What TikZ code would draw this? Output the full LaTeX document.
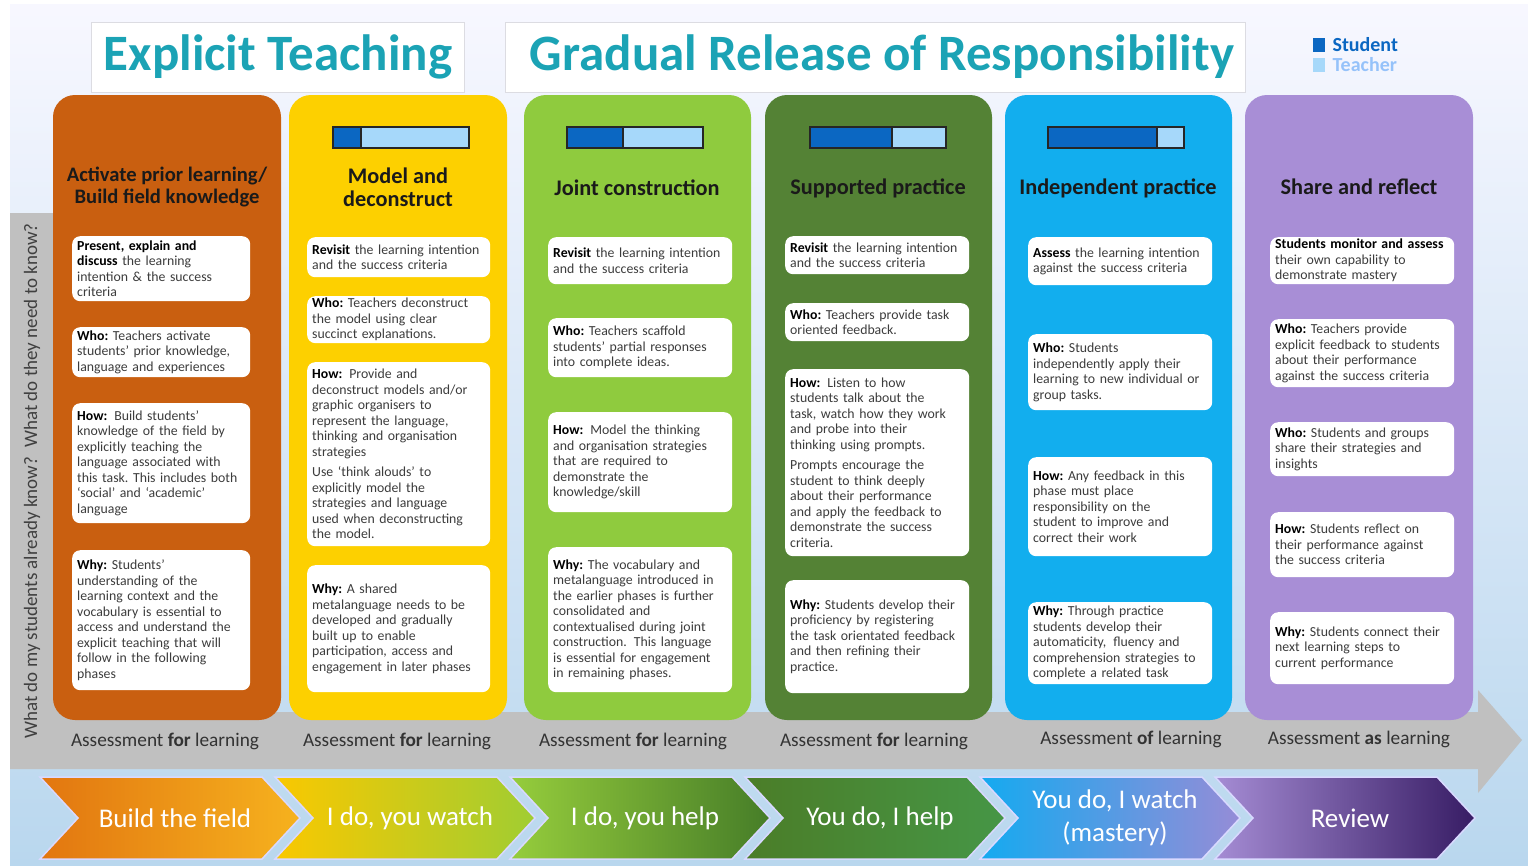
\documentclass[tikz,border=0pt]{standalone}
\usepackage{fontspec}
\setmainfont{Carlito}
\frenchspacing
\definecolor{titleteal}{HTML}{1BA3B5}
\definecolor{colA}{HTML}{C95F10}
\definecolor{colB}{HTML}{FDD000}
\definecolor{colC}{HTML}{8FCB3E}
\definecolor{colD}{HTML}{548235}
\definecolor{colE}{HTML}{12AEEE}
\definecolor{colF}{HTML}{A88ED6}
\definecolor{studentblue}{HTML}{0B67C2}
\definecolor{teacherblue}{HTML}{A6D8FA}
\definecolor{arrowgrey}{HTML}{C0C0C0}
\definecolor{boxtext}{HTML}{3C3C3C}
\definecolor{headtext}{HTML}{1A1A1A}
\tikzset{
  titlebox/.style={fill=white, draw=blue!10!gray!25},
  titletext/.style={text=titleteal, font=\fontsize{51}{55}\selectfont\bfseries},
  colhead/.style={font=\fontsize{22.3}{23}\selectfont\bfseries, text=headtext, align=center},
  infobox/.style={fill=white, rounded corners=8pt, anchor=north west, align=left, inner xsep=5pt, inner ysep=2pt, text=boxtext, font=\fontsize{13.8}{15.5}\selectfont},
  assess/.style={font=\fontsize{19.3}{21}\selectfont, text=black!80},
  chevtext/.style={font=\fontsize{27}{33}\selectfont, text=white, align=center}
}
% name, x, y, width, height, text
\newcommand{\infobox}[6]{%
  \pgfmathsetlengthmacro\boxtw{#4-9}
  \node[infobox, text width=\boxtw, minimum height=#5pt] (#1) at (#2,#3) {#6};}
\begin{document}
\begin{tikzpicture}[x=1pt, y=-1pt]
\useasboundingbox (0,0) rectangle (1528,865);
\fill[white] (0,0) rectangle (1528,865);
\shade[top color=blue!3!white, bottom color={rgb,255:red,185;green,215;blue,238}] (10,4) rectangle (1528,865);
% titles and legend
\node[titlebox, minimum width=373pt, minimum height=70pt] (tETbox) at (278,57) {};
\node[titlebox, minimum width=740pt, minimum height=70pt] (tGRbox) at (875,57) {};
\node[titletext] (tET) at (278,57) {Explicit Teaching};
\node[titletext] (tGR) at (882,57) {Gradual Release of Responsibility};
\fill[studentblue] (1313,38) rectangle (1325,52);
\fill[teacherblue] (1313,58) rectangle (1325,72);
\node[anchor=west, text=studentblue, font=\fontsize{20}{21}\selectfont\bfseries] (lgS) at (1329,45) {Student};
\node[anchor=west, text=teacherblue!90!blue, font=\fontsize{20}{21}\selectfont\bfseries] (lgT) at (1329,65) {Teacher};
% grey arrow
\fill[arrowgrey] (10,213) -- (60,213) -- (60,712) -- (1478,712) -- (1478,690) -- (1522,740) -- (1478,793) -- (1478,769) -- (10,769) -- cycle;
\node[rotate=90, text=black!75, font=\fontsize{19}{20}\selectfont] (askq) at (32,481) {What do my students already know?\enspace What do they need to know?};
% columns
\foreach \x/\w/\c in {53/228/colA, 289/218/colB, 524/227/colC, 765/227/colD, 1005/227/colE, 1245/228/colF}
  \fill[\c, rounded corners=22pt] (\x,95) rectangle ++(\w,625);
% student / teacher bars
\foreach \x/\d in {333/28, 567/56, 810/82, 1048/109} {
  \fill[studentblue] (\x,127) rectangle ++(\d,21);
  \fill[teacherblue] (\x+\d,127) rectangle (\x+136,148);
  \draw[black!85, line width=1.2pt] (\x,127) rectangle ++(136,21) (\x+\d,127) -- ++(0,21);
}
\node[colhead, font=\fontsize{20.6}{22}\selectfont\bfseries] (hA) at (167,187) {Activate prior learning/\\Build field knowledge};
\node[colhead] (hB) at (398,187) {Model and\\deconstruct};
\node[colhead] (hC) at (637,188) {Joint construction};
\node[colhead] (hD) at (878,188) {Supported practice};
\node[colhead] (hE) at (1118,188) {Independent practice};
\node[colhead] (hF) at (1359,187) {Share and reflect};
% column 1
\infobox{c1a}{72}{236}{177}{65}{\textbf{\color{black}Present, explain and}\\\textbf{\color{black}discuss} the learning\\intention \& the success\\criteria}
\infobox{c1b}{72}{327}{177}{50}{\textbf{\color{black}Who:} Teachers activate\\students’ prior knowledge,\\language and experiences}
\infobox{c1c}{72}{403}{177}{120}{\textbf{\color{black}How:}\enspace Build students’\\knowledge of the field by\\explicitly teaching the\\language associated with\\this task. This includes both\\‘social’ and ‘academic’\\language}
\infobox{c1d}{72}{550}{177}{140}{\textbf{\color{black}Why:} Students’\\understanding of the\\learning context and the\\vocabulary is essential to\\access and understand the\\explicit teaching that will\\follow in the following\\phases}
% column 2
\infobox{c2a}{307}{237}{182}{40}{\textbf{\color{black}Revisit} the learning intention\\and the success criteria}
\infobox{c2b}{307}{296}{182}{46}{\textbf{\color{black}Who:} Teachers deconstruct\\the model using clear\\succinct explanations.}
\infobox{c2c}{307}{362}{182}{184}{\textbf{\color{black}How:}\enspace Provide and\\deconstruct models and/or\\graphic organisers to\\represent the language,\\thinking and organisation\\strategies\\[5pt]Use ‘think alouds’ to\\explicitly model the\\strategies and language\\used when deconstructing\\the model.}
\infobox{c2d}{307}{565}{182}{127}{\textbf{\color{black}Why:} A shared\\metalanguage needs to be\\developed and gradually\\built up to enable\\participation, access and\\engagement in later phases}
% column 3
\infobox{c3a}{548}{237}{183}{47}{\textbf{\color{black}Revisit} the learning intention\\and the success criteria}
\infobox{c3b}{548}{318}{183}{59}{\textbf{\color{black}Who:} Teachers scaffold\\students’ partial responses\\into complete ideas.}
\infobox{c3c}{548}{412}{183}{100}{\textbf{\color{black}How:}\enspace Model the thinking\\and organisation strategies\\that are required to\\demonstrate the\\knowledge/skill}
\infobox{c3d}{548}{547}{183}{145}{\textbf{\color{black}Why:} The vocabulary and\\metalanguage introduced in\\the earlier phases is further\\consolidated and\\contextualised during joint\\construction.\enspace This language\\is essential for engagement\\in remaining phases.}
% column 4
\infobox{c4a}{785}{236}{183}{38}{\textbf{\color{black}Revisit} the learning intention\\and the success criteria}
\infobox{c4b}{785}{303}{183}{38}{\textbf{\color{black}Who:} Teachers provide task\\oriented feedback.}
\infobox{c4c}{785}{369}{183}{187}{\textbf{\color{black}How:}\enspace Listen to how\\students talk about the\\task, watch how they work\\and probe into their\\thinking using prompts.\\[5pt]Prompts encourage the\\student to think deeply\\about their performance\\and apply the feedback to\\demonstrate the success\\criteria.}
\infobox{c4d}{785}{580}{183}{113}{\textbf{\color{black}Why:} Students develop their\\proficiency by registering\\the task orientated feedback\\and then refining their\\practice.}
% column 5
\infobox{c5a}{1028}{237}{183}{48}{\textbf{\color{black}Assess} the learning intention\\against the success criteria}
\infobox{c5b}{1028}{334}{183}{76}{\textbf{\color{black}Who:} Students\\independently apply their\\learning to new individual or\\group tasks.}
\infobox{c5c}{1028}{457}{183}{99}{\textbf{\color{black}How:} Any feedback in this\\phase must place\\responsibility on the\\student to improve and\\correct their work}
\infobox{c5d}{1028}{602}{183}{82}{\textbf{\color{black}Why:} Through practice\\students develop their\\automaticity,\enspace fluency and\\comprehension strategies to\\complete a related task}
% column 6
\infobox{c6a}{1270}{237}{183}{47}{\textbf{\color{black}Students monitor and assess}\\their own capability to\\demonstrate mastery}
\infobox{c6b}{1270}{319}{183}{68}{\textbf{\color{black}Who:} Teachers provide\\explicit feedback to students\\about their performance\\against the success criteria}
\infobox{c6c}{1270}{422}{183}{54}{\textbf{\color{black}Who:} Students and groups\\share their strategies and\\insights}
\infobox{c6d}{1270}{512}{183}{65}{\textbf{\color{black}How:} Students reflect on\\their performance against\\the success criteria}
\infobox{c6e}{1270}{612}{183}{72}{\textbf{\color{black}Why:} Students connect their\\next learning steps to\\current performance}
% assessment labels
\node[assess] (aA) at (165,741) {Assessment \textbf{for} learning};
\node[assess] (aB) at (397,741) {Assessment \textbf{for} learning};
\node[assess] (aC) at (633,741) {Assessment \textbf{for} learning};
\node[assess] (aD) at (874,741) {Assessment \textbf{for} learning};
\node[assess] (aE) at (1131,739) {Assessment \textbf{of} learning};
\node[assess] (aF) at (1359,739) {Assessment \textbf{as} learning};
% chevrons
\foreach \i/\ca/\cb/\t in {0/{rgb,255:red,226;green,118;blue,16}/{rgb,255:red,246;green,178;blue,30}/{Build the field},
    1/{rgb,255:red,250;green,200;blue,0}/{rgb,255:red,160;green,205;blue,50}/{I do, you watch},
    2/{rgb,255:red,150;green,205;blue,60}/{rgb,255:red,70;green,125;blue,40}/{I do, you help},
    3/{rgb,255:red,75;green,125;blue,40}/{rgb,255:red,70;green,150;blue,70}/{You do, I help},
    4/{rgb,255:red,20;green,170;blue,240}/{rgb,255:red,150;green,140;blue,215}/{You do, I watch\\(mastery)},
    5/{rgb,255:red,165;green,140;blue,212}/{rgb,255:red,55;green,28;blue,100}/{Review}} {
  \pgfmathsetmacro\xl{40+235*\i}
  \shade[left color=\ca, right color=\cb, draw=white!85!blue, line width=1.5pt] (\xl,777) -- ++(222,0) -- ++(38,41) -- ++(-38,41) -- ++(-222,0) -- ++(38,-41) -- cycle;
  \node[chevtext] (chev\i) at (\xl+135,818) {\t};
}
\end{tikzpicture}
\end{document}
